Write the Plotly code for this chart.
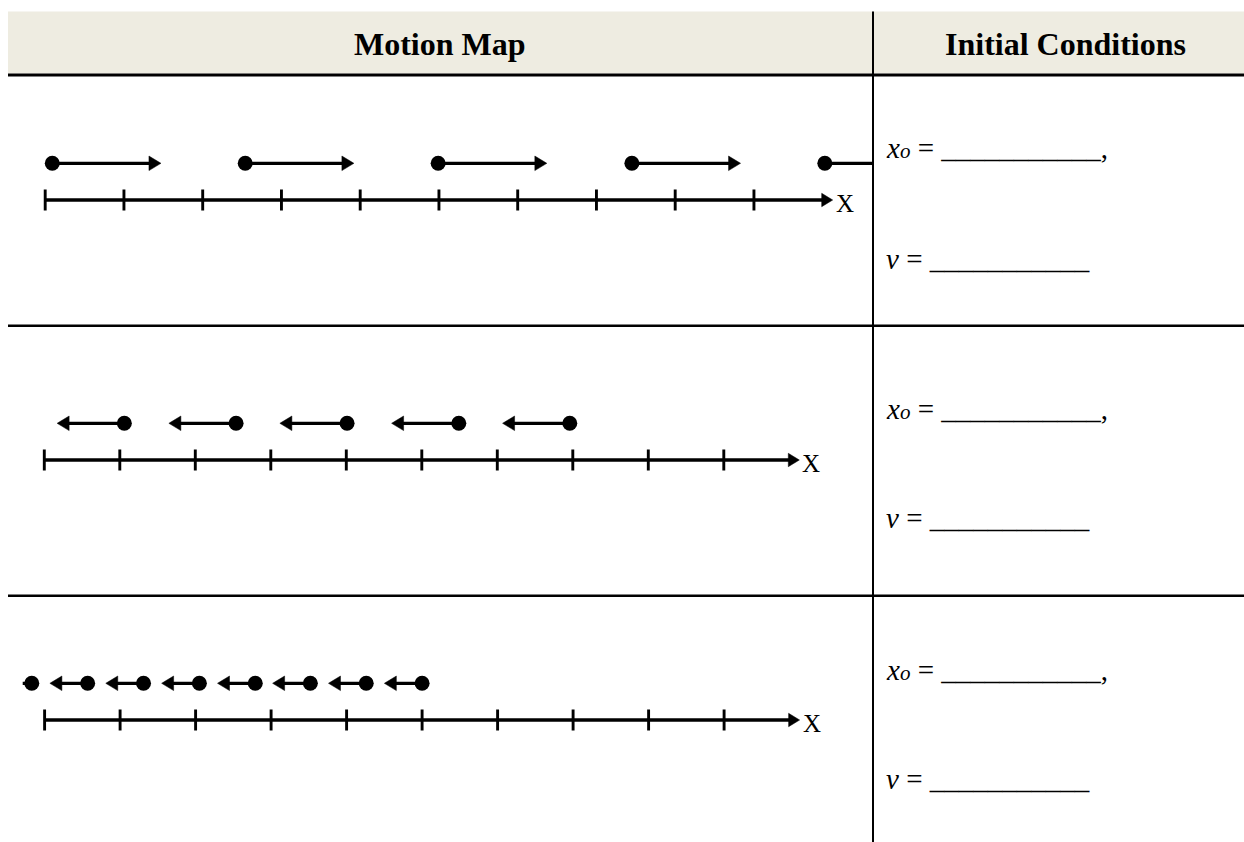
import plotly.graph_objects as go

# ---------------- data ----------------
header_labels = ["Motion Map", "Initial Conditions"]
tick_values = [0, 1, 2, 3, 4, 5, 6, 7, 8, 9]
axis_end_value = 10
axis_label = "X"

# row 1: moving right, large equal steps
row1_positions = [0.09, 2.54, 4.99, 7.45, 9.90]
row1_steps = [1.38, 1.38, 1.38, 1.38, 1.38]
row1_heads = [True, True, True, True, True]

# row 2: moving left, medium equal steps
row2_positions = [1.06, 2.54, 4.01, 5.49, 6.96]
row2_steps = [-0.89, -0.89, -0.89, -0.89, -0.89]
row2_heads = [True, True, True, True, True]

# row 3: moving left, small equal steps
row3_positions = [-0.17, 0.57, 1.31, 2.05, 2.79, 3.52, 4.26, 5.00]
row3_steps = [-0.12, -0.50, -0.50, -0.50, -0.50, -0.50, -0.50, -0.50]
row3_heads = [False, True, True, True, True, True, True, True]

condition_symbols = ["x", "v"]
condition_subscript = "o"
blank = "___________"

# ---------------- layout geometry (pixels) ----------------
W, H = 1244, 842
LEFT = 8
DIV_X = 873
HEAD_TOP, HEAD_BOT = 11.5, 73.5
HEAD_LINE_Y = 75
ROW_LINES = [325.7, 595.7]
Y_UNIT = 36.7          # px between number line and motion dots
MOT_HEAD_LEN, MOT_HEAD_HALF = 12.0, 7.3
AX_HEAD_LEN, AX_HEAD_HALF = 11.0, 6.7
LINE_W = 3.3
FONT = "Liberation Serif"

rows = [
    dict(top=76.5, bottom=ROW_LINES[0], axis_y=200.0, origin=45.2, unit=78.75,
         pos=row1_positions, steps=row1_steps, heads=row1_heads, text_y=(148.5, 258.5)),
    dict(top=ROW_LINES[0], bottom=ROW_LINES[1], axis_y=460.0, origin=44.3, unit=75.5,
         pos=row2_positions, steps=row2_steps, heads=row2_heads, text_y=(408.5, 517.5)),
    dict(top=ROW_LINES[1], bottom=H, axis_y=720.0, origin=44.6, unit=75.5,
         pos=row3_positions, steps=row3_steps, heads=row3_heads, text_y=(669.5, 778.5)),
]

fig = go.Figure()
layout = dict(
    width=W, height=H, margin=dict(l=0, r=0, t=0, b=0),
    paper_bgcolor="white", plot_bgcolor="rgba(0,0,0,0)",
    showlegend=False, shapes=[], annotations=[],
)

def triangles(tips, directions, length_u, half_u, yval):
    xs, ys = [], []
    for t, d in zip(tips, directions):
        base = t - d * length_u
        xs += [t, base, base, t, None]
        ys += [yval, yval + half_u, yval - half_u, yval, None]
    return xs, ys

for i, r in enumerate(rows):
    sfx = "" if i == 0 else str(i + 1)
    xref, yref = "x" + sfx, "y" + sfx
    unit = r["unit"]
    layout["xaxis" + sfx] = dict(
        domain=[0, DIV_X / W],
        range=[(0 - r["origin"]) / unit, (DIV_X - r["origin"]) / unit],
        visible=False, fixedrange=True, anchor=yref)
    layout["yaxis" + sfx] = dict(
        domain=[1 - r["bottom"] / H, 1 - r["top"] / H],
        range=[(r["axis_y"] - r["bottom"]) / Y_UNIT, (r["axis_y"] - r["top"]) / Y_UNIT],
        visible=False, fixedrange=True, anchor=xref)

    common = dict(xaxis=xref, yaxis=yref, hoverinfo="skip", showlegend=False)

    # number line shaft
    fig.add_trace(go.Scatter(
        x=[tick_values[0], axis_end_value - (AX_HEAD_LEN / 2) / unit], y=[0, 0],
        mode="lines", line=dict(color="black", width=LINE_W), **common))
    # ticks
    fig.add_trace(go.Scatter(
        x=tick_values, y=[0] * len(tick_values), mode="markers",
        marker=dict(symbol="line-ns", size=15, line=dict(color="black", width=2.9)),
        **common))
    # number line arrow head
    tx, ty = triangles([axis_end_value], [1], AX_HEAD_LEN / unit, AX_HEAD_HALF / Y_UNIT, 0)
    fig.add_trace(go.Scatter(x=tx, y=ty, mode="lines", fill="toself",
                             fillcolor="black", line=dict(color="black", width=0.5),
                             **common))
    # motion arrows
    sx, sy, tips, dirs = [], [], [], []
    for p, s, h in zip(r["pos"], r["steps"], r["heads"]):
        d = 1 if s > 0 else -1
        end = p + s - (d * (MOT_HEAD_LEN / 2) / unit if h else 0)
        sx += [p, end, None]
        sy += [1, 1, None]
        if h:
            tips.append(p + s)
            dirs.append(d)
    fig.add_trace(go.Scatter(x=sx, y=sy, mode="lines",
                             line=dict(color="black", width=LINE_W), **common))
    if tips:
        tx, ty = triangles(tips, dirs, MOT_HEAD_LEN / unit, MOT_HEAD_HALF / Y_UNIT, 1)
        fig.add_trace(go.Scatter(x=tx, y=ty, mode="lines", fill="toself",
                                 fillcolor="black", line=dict(color="black", width=0.5),
                                 **common))
    # dots
    fig.add_trace(go.Scatter(
        x=r["pos"], y=[1] * len(r["pos"]), mode="markers",
        marker=dict(symbol="circle", size=15, color="black"), **common))

    # X label
    layout["annotations"].append(dict(
        x=axis_end_value, y=0, xref=xref, yref=yref, text=axis_label,
        showarrow=False, xanchor="left", yanchor="middle", xshift=1, yshift=-3.6,
        font=dict(family=FONT, size=25, color="black")))

    # initial condition texts
    x0_text = ("<i>%s</i><i><span style='font-size:21px'>%s</span></i> = %s,"
               % (condition_symbols[0], condition_subscript, blank))
    v_text = "<i>%s</i> = %s" % (condition_symbols[1], blank)
    for txt, ty_px in zip([x0_text, v_text], r["text_y"]):
        layout["annotations"].append(dict(
            x=884 / W, y=1 - ty_px / H, xref="paper", yref="paper", text=txt,
            showarrow=False, xanchor="left", yanchor="middle",
            font=dict(family=FONT, size=29, color="black")))

# header
layout["shapes"].append(dict(type="rect", xref="paper", yref="paper",
                             x0=LEFT / W, x1=1, y0=1 - HEAD_BOT / H, y1=1 - HEAD_TOP / H,
                             fillcolor="#EEECE1", line=dict(width=0), layer="below"))
for lab, cx in zip(header_labels, [440, 1065.5]):
    layout["annotations"].append(dict(
        x=cx / W, y=1 - 44.2 / H, xref="paper", yref="paper", text="<b>%s</b>" % lab,
        showarrow=False, xanchor="center", yanchor="middle",
        font=dict(family=FONT, size=32, color="black")))

# table rules
layout["shapes"].append(dict(type="line", xref="paper", yref="paper",
                             x0=LEFT / W, x1=1, y0=1 - HEAD_LINE_Y / H, y1=1 - HEAD_LINE_Y / H,
                             line=dict(color="black", width=3)))
for yl in ROW_LINES:
    layout["shapes"].append(dict(type="line", xref="paper", yref="paper",
                                 x0=LEFT / W, x1=1, y0=1 - yl / H, y1=1 - yl / H,
                                 line=dict(color="black", width=2.4)))
layout["shapes"].append(dict(type="line", xref="paper", yref="paper",
                             x0=DIV_X / W, x1=DIV_X / W, y0=0, y1=1 - HEAD_TOP / H,
                             line=dict(color="black", width=2)))

fig.update_layout(**layout)
fig.write_html("out.html", config={"displayModeBar": False},
               post_script="document.body.style.margin='0px';"
                           "document.body.style.overflow='hidden';")
